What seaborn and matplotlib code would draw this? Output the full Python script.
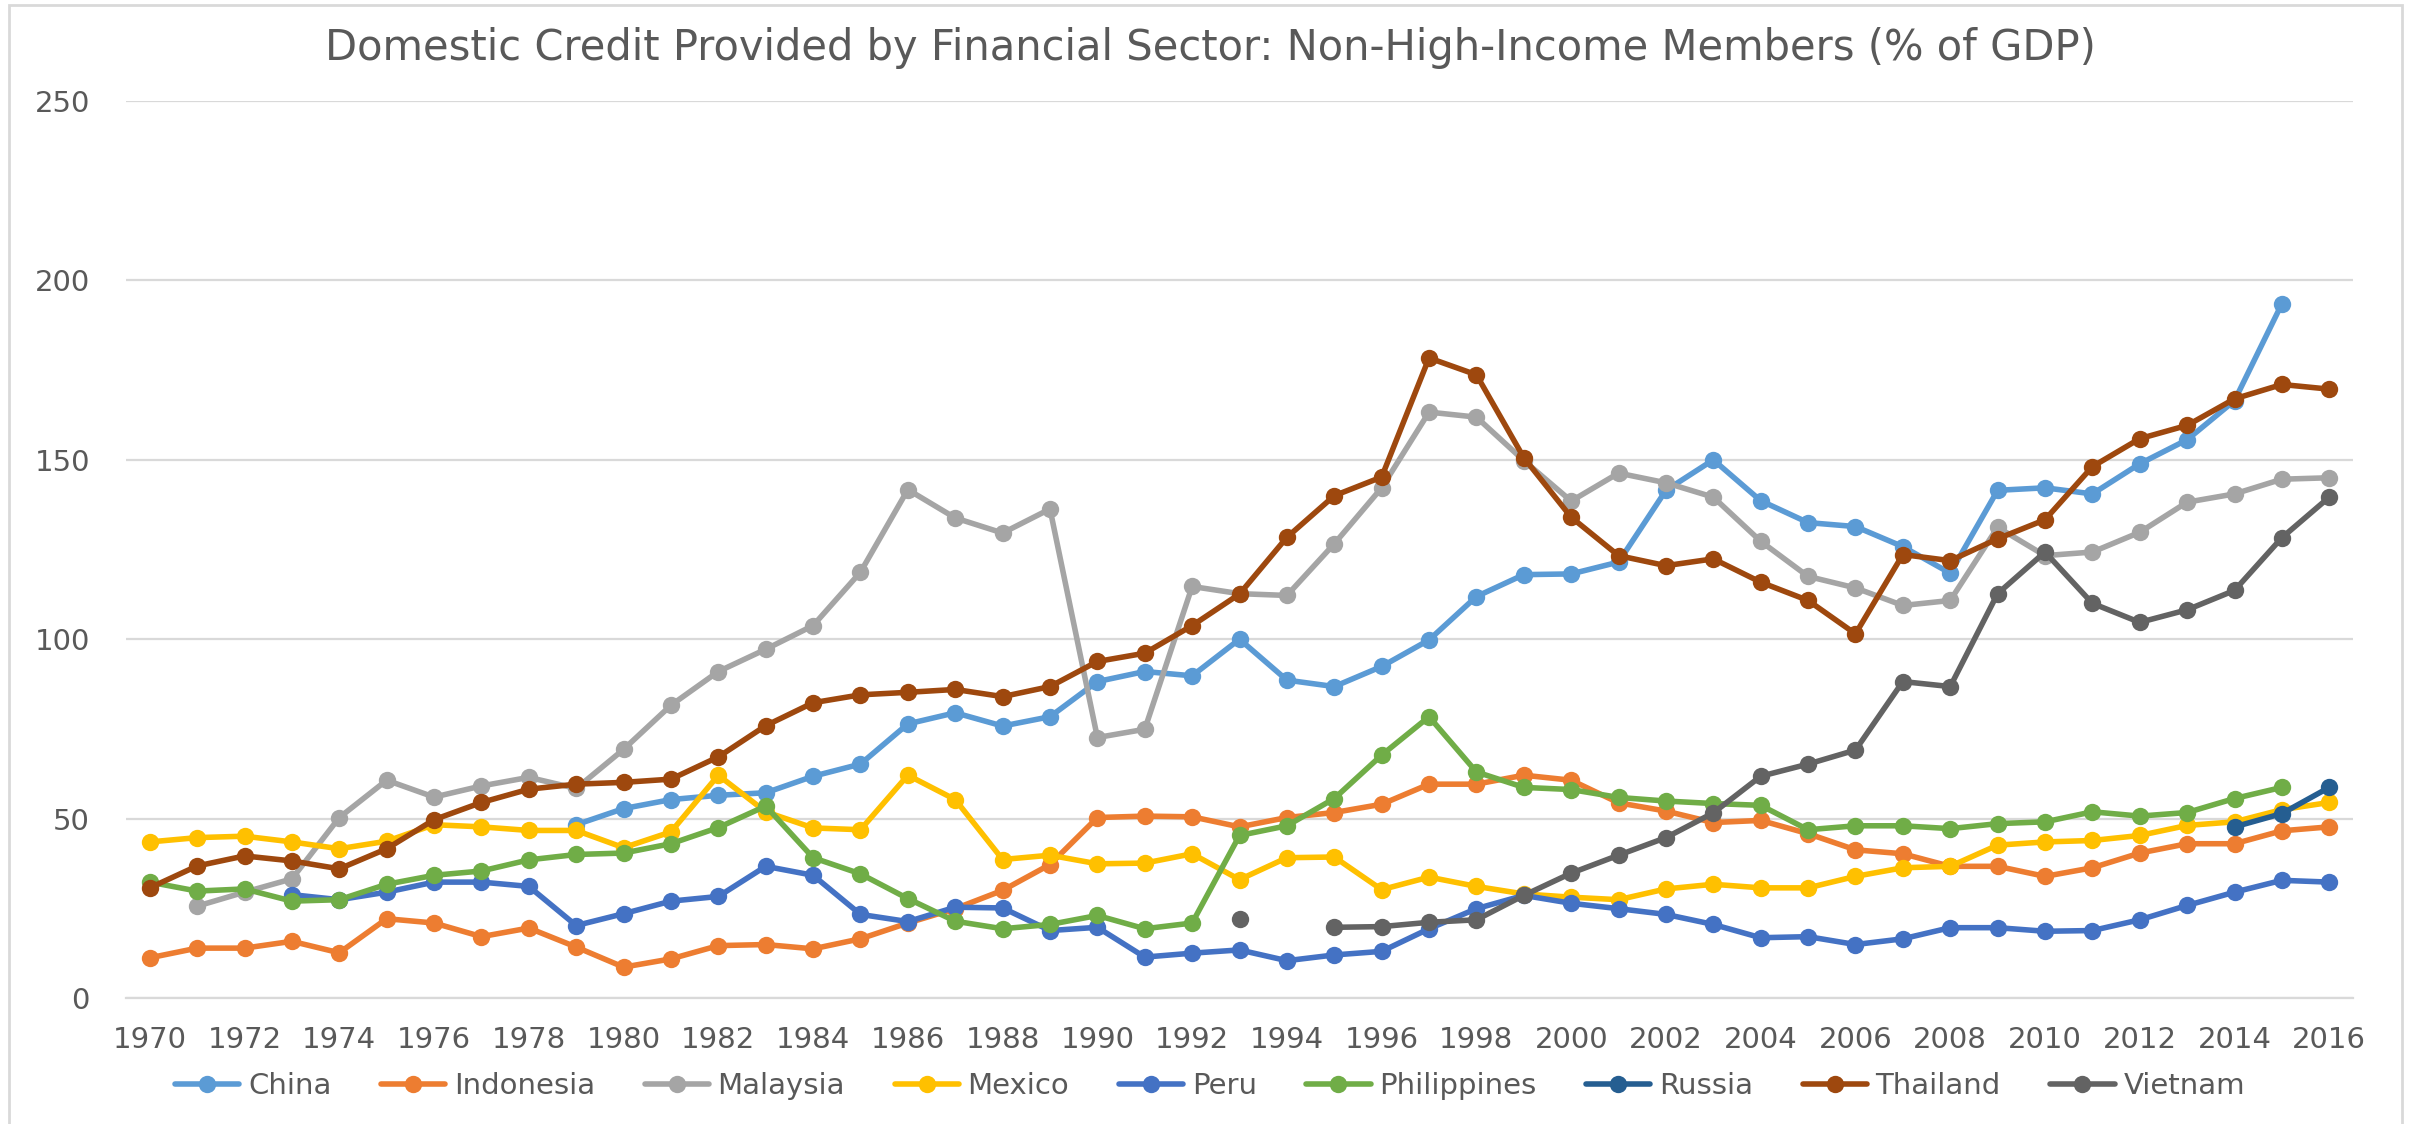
import numpy as np
import pandas as pd
import matplotlib
matplotlib.use("Agg")
import matplotlib.pyplot as plt
from matplotlib.lines import Line2D
from matplotlib.patches import Rectangle
import seaborn as sns

nan = np.nan
years = list(range(1970, 2017))

china = [nan]*9 + [48.3, 52.8, 55.3, 56.5, 57.2, 61.8, 65.2, 76.4, 79.5, 75.8, 78.4,
                   88.2, 91.0, 89.8, 100.0, 88.6, 86.8, 92.4, 99.8, 111.9, 118.0,
                   118.2, 121.5, 141.5, 150.0, 138.6, 132.5, 131.4, 125.8, 118.4, 141.5,
                   142.2, 140.5, 148.9, 155.6, 166.5, 193.5, nan]
indonesia = [11.2, 13.9, 13.9, 15.8, 12.6, 22.1, 20.9, 17.1, 19.5, 14.2,
             8.6, 10.9, 14.6, 14.9, 13.7, 16.5, 20.9, 24.9, 30.0, 37.2,
             50.3, 50.7, 50.5, 47.7, 50.3, 51.7, 54.0, 59.6, 59.6, 62.1,
             60.7, 54.4, 52.1, 48.9, 49.5, 45.8, 41.3, 40.2, 36.7, 36.7,
             33.9, 36.3, 40.4, 43.0, 43.0, 46.6, 47.7]
malaysia = [nan, 25.6, 29.5, 33.2, 50.3, 60.7, 56.0, 59.1, 61.5, 58.4,
            69.3, 81.6, 91.0, 97.2, 103.8, 118.7, 141.7, 133.8, 129.6, 136.3,
            72.6, 74.9, 114.7, 112.7, 112.2, 126.6, 142.2, 163.3, 161.9, 149.8,
            138.5, 146.3, 143.6, 139.6, 127.3, 117.5, 114.3, 109.4, 110.8, 131.2,
            123.3, 124.3, 129.8, 138.2, 140.5, 144.6, 145.0]
mexico = [43.5, 44.7, 45.1, 43.5, 41.6, 43.7, 48.3, 47.7, 46.7, 46.7,
          41.9, 46.3, 62.1, 51.9, 47.4, 46.9, 62.1, 55.3, 38.6, 39.8,
          37.4, 37.6, 40.2, 33.0, 39.1, 39.3, 30.2, 33.7, 31.1, 29.0,
          28.1, 27.4, 30.4, 31.7, 30.7, 30.7, 33.9, 36.3, 36.7, 42.6,
          43.5, 43.9, 45.3, 48.1, 49.1, 52.5, 54.5]
peru = [nan, nan, nan, 28.8, 27.4, 29.5, 32.3, 32.3, 31.1, 20.2,
        23.5, 27.0, 28.3, 36.7, 34.2, 23.3, 21.3, 25.3, 25.1, 18.8,
        19.7, 11.4, 12.5, 13.4, 10.4, 12.0, 13.0, 19.3, 24.9, 28.6,
        26.4, 24.9, 23.3, 20.5, 16.8, 17.1, 14.9, 16.5, 19.6, 19.6,
        18.6, 18.8, 21.8, 25.8, 29.5, 32.8, 32.3]
philippines = [32.3, 29.8, 30.4, 27.0, 27.4, 31.7, 34.2, 35.4, 38.5, 40.0,
               40.4, 43.0, 47.5, 53.5, 39.1, 34.6, 27.7, 21.4, 19.3, 20.5,
               23.0, 19.3, 20.9, 45.3, 48.0, 55.6, 67.7, 78.4, 63.0, 58.7,
               58.1, 55.9, 54.9, 54.2, 53.7, 46.9, 48.0, 48.0, 47.2, 48.6,
               49.1, 51.9, 50.7, 51.7, 55.6, 58.7, nan]
russia = [nan]*44 + [47.7, 51.4, 58.7]
thailand = [30.7, 36.8, 39.6, 38.2, 36.0, 41.6, 49.7, 54.5, 58.2, 59.6,
            60.1, 61.0, 67.2, 75.9, 82.3, 84.5, 85.2, 86.0, 84.0, 86.8,
            93.8, 96.1, 103.8, 112.6, 128.4, 140.0, 145.2, 178.4, 173.7, 150.6,
            134.0, 123.3, 120.5, 122.4, 115.9, 110.8, 101.5, 123.6, 121.9, 128.0,
            133.3, 148.1, 155.9, 159.6, 167.0, 171.0, 169.7]
vietnam = [nan]*23 + [22.1, nan, 19.7, 19.9, 21.1, 21.8, 28.6,
                      34.8, 39.8, 44.7, 51.6, 61.8, 65.2, 69.1, 88.2, 86.8, 112.7,
                      124.3, 110.0, 104.7, 108.2, 113.6, 128.3, 139.6]

countries = ["China", "Indonesia", "Malaysia", "Mexico", "Peru",
             "Philippines", "Russia", "Thailand", "Vietnam"]
series = [china, indonesia, malaysia, mexico, peru, philippines, russia, thailand, vietnam]
colors = ["#5B9BD5", "#ED7D31", "#A5A5A5", "#FFC000", "#4472C4",
          "#70AD47", "#255E91", "#9E480E", "#636363"]
palette = dict(zip(countries, colors))

title = "Domestic Credit Provided by Financial Sector: Non-High-Income Members (% of GDP)"
y_ticks = [0, 50, 100, 150, 200, 250]
x_ticks = list(range(1970, 2017, 2))

# long table with segment ids so that gaps (NaN) break the lines
rows = []
for name, vals in zip(countries, series):
    seg = 0
    prev_nan = True
    for yr, v in zip(years, vals):
        if np.isnan(v):
            prev_nan = True
            continue
        if prev_nan:
            seg += 1
            prev_nan = False
        rows.append({"Year": yr, "Value": v, "Country": name, "Seg": f"{name}_{seg}"})
df = pd.DataFrame(rows)

sns.set_theme(style="white")
plt.rcParams["font.family"] = ["DejaVu Sans"]
text_color = "#595959"
LW = 4.0
MS = 12.5

fig = plt.figure(figsize=(24.2, 11.24), dpi=100)
ax = fig.add_axes([0.0521, 0.1121, 0.9202, 0.7980])

sns.lineplot(data=df, x="Year", y="Value", hue="Country", units="Seg",
             estimator=None, hue_order=countries, palette=palette,
             marker="o", markersize=MS, markeredgewidth=0, linewidth=LW,
             legend=False, ax=ax, sort=True)

ax.set_xlim(1969.5, 2016.5)
ax.set_ylim(0, 250)
ax.set_yticks(y_ticks)
ax.set_xticks(x_ticks)
ax.set_xticklabels([str(t) for t in x_ticks])
ax.set_xlabel("")
ax.set_ylabel("")
ax.yaxis.grid(True, color="#D9D9D9", linewidth=1.6)
ax.xaxis.grid(False)
ax.set_axisbelow(True)
for s in ["top", "right", "left"]:
    ax.spines[s].set_visible(False)
ax.spines["bottom"].set_color("#D9D9D9")
ax.spines["bottom"].set_linewidth(1.6)
ax.tick_params(axis="both", length=0, labelsize=21, labelcolor=text_color)
ax.tick_params(axis="y", pad=26)
ax.tick_params(axis="x", pad=20)

fig.text(0.5, 1 - 48 / 1124, title, ha="center", va="center",
         fontsize=30, color=text_color)

handles = [Line2D([0], [0], color=c, lw=LW, marker="o", markersize=MS,
                  markeredgewidth=0) for c in colors]
fig.legend(handles, countries, loc="center", bbox_to_anchor=(0.5, 38 / 1124),
           ncol=9, frameon=False, fontsize=21, handlelength=2.2,
           handletextpad=0.3, columnspacing=1.7, labelcolor=text_color,
           numpoints=1)

fig.patches.append(Rectangle((9 / 2420, -0.01), (2402 - 9) / 2420, 1.01 - 5 / 1124,
                             transform=fig.transFigure, fill=False,
                             edgecolor="#D9D9D9", linewidth=2))

fig.savefig("out.png", dpi=100, facecolor="white")
